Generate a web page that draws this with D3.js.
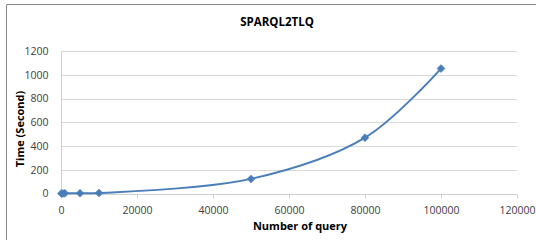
<!DOCTYPE html>
<html><head><meta charset="utf-8">
<script src="https://cdn.jsdelivr.net/npm/d3@7"></script>
<style>
body{margin:0;background:#fff;}
svg{display:block;font-family:"Open Sans","Liberation Sans",sans-serif;}
</style></head>
<body><svg id="c" width="536" height="240"></svg>
<script>
const queries = [100, 500, 1000, 5000, 10000, 50000, 80000, 100000];
const seconds = [0.5, 1, 1.5, 2, 4, 123, 470, 1052];
const xTicks = [0, 20000, 40000, 60000, 80000, 100000, 120000];
const yTicks = [0, 200, 400, 600, 800, 1000, 1200];
const title = "SPARQL2TLQ";
const xTitle = "Number of query";
const yTitle = "Time (Second)";

const svg = d3.select("#c");
svg.append("rect").attr("x",0).attr("y",0).attr("width",536).attr("height",240).attr("fill","#fff");
// frame (cropped on right/bottom)
svg.append("path").attr("d","M6.5,240 V4.5 H536").attr("fill","none").attr("stroke","#8a8a8a").attr("stroke-width",1);

const x = d3.scaleLinear().domain([0,120000]).range([61,517]);
const y = d3.scaleLinear().domain([0,1200]).range([193.5,51]);

// gridlines
svg.append("g").selectAll("line").data(yTicks.filter(d=>d>0)).join("line")
  .attr("x1",61).attr("x2",517).attr("y1",d=>Math.round(y(d))+0.5).attr("y2",d=>Math.round(y(d))+0.5)
  .attr("stroke","#d9d9d9").attr("stroke-width",1);

// y axis
const ya = svg.append("g").attr("transform","translate(61.5,0)")
  .call(d3.axisLeft(y).tickValues(yTicks).tickSize(0).tickPadding(13).tickFormat(d3.format("d")));
ya.select(".domain").attr("stroke","#d0d0d0").attr("d","M0,"+y(1200)+"V"+(y(0)));
ya.selectAll("text").attr("font-size","10.5px").attr("fill","#404040").attr("font-family","'Open Sans',sans-serif");

// x axis
const xa = svg.append("g").attr("transform","translate(0,"+(Math.round(y(0))+0.5)+")")
  .call(d3.axisBottom(x).tickValues(xTicks).tickSize(4).tickPadding(8).tickFormat(d3.format("d")));
xa.select(".domain").attr("stroke","#d0d0d0").attr("d","M"+x(0)+",0H"+x(120000));
xa.selectAll(".tick line").attr("stroke","#d0d0d0");
xa.selectAll("text").attr("font-size","10.5px").attr("fill","#404040").attr("font-family","'Open Sans',sans-serif");

// line
const pts = queries.map((q,i)=>[q,seconds[i]]);
const line = d3.line().x(d=>x(d[0])).y(d=>y(d[1])).curve(d3.curveCatmullRom.alpha(0.5));
svg.append("path").datum(pts).attr("d",line).attr("fill","none").attr("stroke","#4a7ebb").attr("stroke-width",2);

// markers (square diamond)
const r = 4;
svg.append("g").selectAll("path").data(pts).join("path")
  .attr("d","M0,"+(-r)+"L"+r+",0L0,"+r+"L"+(-r)+",0Z")
  .attr("transform",d=>"translate("+x(d[0])+","+y(d[1])+")")
  .attr("fill","#4a7ebb").attr("stroke","#4a7ebb").attr("stroke-width",0.5);

// titles
svg.append("text").attr("x",277).attr("y",26).attr("text-anchor","middle")
  .attr("font-size","11.5px").attr("font-weight","bold").attr("fill","#000").text(title);
svg.append("text").attr("x",300).attr("y",230).attr("text-anchor","middle")
  .attr("font-size","11px").attr("font-weight","bold").attr("fill","#000").text(xTitle);
svg.append("text").attr("transform","translate(24,129) rotate(-90)").attr("text-anchor","middle")
  .attr("font-size","11px").attr("font-weight","bold").attr("fill","#000").text(yTitle);
</script></body></html>
